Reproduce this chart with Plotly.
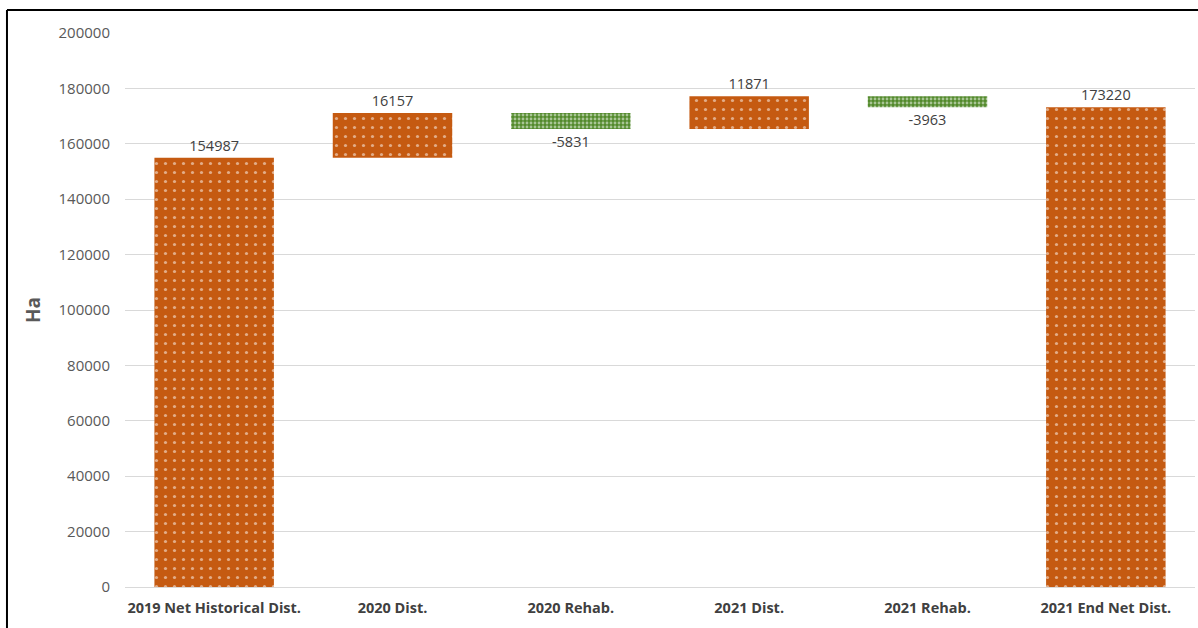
import plotly.graph_objects as go

categories = ["2019 Net Historical Dist.", "2020 Dist.", "2020 Rehab.", "2021 Dist.", "2021 Rehab.", "2021 End Net Dist."]
values = [154987, 16157, -5831, 11871, -3963, 173220]
kinds = ["total", "relative", "relative", "relative", "relative", "total"]
labels = ["154987", "16157", "-5831", "11871", "-3963", "173220"]
y_ticks = list(range(0, 200001, 20000))

# compute bases for a waterfall made of bars (allows pattern fill)
bases = []
running = 0
for v, k in zip(values, kinds):
    if k == "total":
        bases.append(0)
        running = v
    else:
        bases.append(running)
        running += v

ORANGE = "#C55A11"
GREEN = "#538A2C"

bg_colors = [ORANGE if v >= 0 else GREEN for v in values]
fg_colors = ["#FFFFFF" if v >= 0 else "#B5DC98" for v in values]
pat_sizes = [9 if v >= 0 else 4 for v in values]
pat_sol = [0.1 if v >= 0 else 0.4 for v in values]

fig = go.Figure()
fig.add_trace(go.Bar(
    x=categories,
    y=values,
    base=bases,
    width=0.67,
    marker=dict(
        color=bg_colors,
        line=dict(width=0),
        pattern=dict(shape=".", bgcolor=bg_colors, fgcolor=fg_colors,
                     size=pat_sizes, solidity=pat_sol, fillmode="overlay"),
    ),
    text=labels,
    textposition="outside",
    textfont=dict(family="Open Sans, sans-serif", size=14.5, color="#404040"),
    cliponaxis=False,
    hoverinfo="skip",
))

fig.update_layout(
    width=1198, height=628,
    margin=dict(l=125, r=3, t=33, b=41),
    paper_bgcolor="white", plot_bgcolor="white",
    showlegend=False,
    xaxis=dict(
        showgrid=False, showline=True, linecolor="#D9D9D9", linewidth=1,
        ticks="", ticklabelstandoff=8,
        tickfont=dict(family="Open Sans, sans-serif", size=14.5, color="#404040", weight="bold"),
    ),
    yaxis=dict(
        range=[0, 200000], tickvals=y_ticks, ticktext=[str(t) for t in y_ticks],
        showgrid=True, gridcolor="#D9D9D9", gridwidth=1, zeroline=False,
        showline=False, ticks="", ticklabelstandoff=14,
        tickfont=dict(family="Open Sans, sans-serif", size=15, color="#595959"),
    ),
    annotations=[dict(
        text="<b>Ha</b>", xref="paper", yref="paper", x=-0.086, y=0.5,
        xanchor="center", yanchor="middle",
        textangle=-90, showarrow=False,
        font=dict(family="Open Sans, sans-serif", size=19, color="#595959"),
    )],
    shapes=[
        dict(type="line", xref="paper", yref="paper", x0=-0.1103, x1=1.01, y0=1.0415, y1=1.0415,
             line=dict(color="black", width=2)),
        dict(type="line", xref="paper", yref="paper", x0=-0.1103, x1=-0.1103, y0=1.0415, y1=-0.08,
             line=dict(color="black", width=2)),
    ],
)

fig.write_html("out.html")
